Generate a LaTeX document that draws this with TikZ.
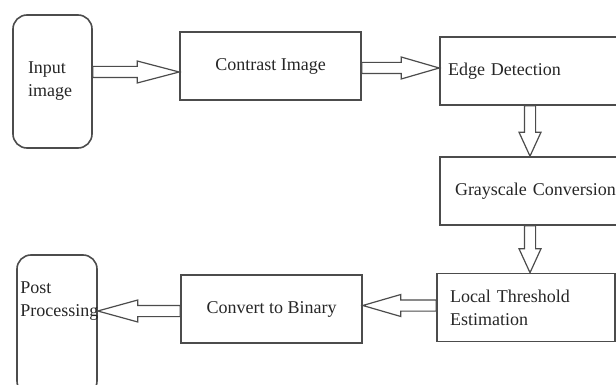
\documentclass[tikz,border=0pt]{standalone}
\usepackage{fontspec}
\setmainfont{Liberation Serif}
\usetikzlibrary{calc,decorations.pathreplacing}

\begin{document}
\begin{tikzpicture}[
		x=0.5pt, y=-0.5pt,
		every node/.style={font=\fontsize{9}{11.5}\selectfont, text=black!85},
		box/.style={rectangle, draw=black!70, line width=0.8pt, minimum height=34pt},
		roundbox/.style={box, rounded corners=7pt},
		% hollow block arrow, #1 = head length
		hollow/.style={decorate, decoration={show path construction, lineto code={
			\draw[black!70, line width=0.6pt, fill=white] let \p1=(\tikzinputsegmentfirst), \p2=(\tikzinputsegmentlast),
				\n1={atan2(\y2-\y1,\x2-\x1)}, \n2={veclen(\x2-\x1,\y2-\y1)} in
				[shift={(\p1)}, rotate=\n1] (0pt,-2.8pt) -- ({\n2*1pt-#1},-2.8pt) -- ({\n2*1pt-#1},-5.5pt)
				-- ({\n2*1pt},0pt) -- ({\n2*1pt-#1},5.5pt) -- ({\n2*1pt-#1},2.8pt) -- (0pt,2.8pt) -- cycle;
		}}}
	]
		\useasboundingbox (0,0) rectangle (616,385);
		
		\node[roundbox, minimum width=39.5pt, minimum height=66.5pt, text width=24.5pt, inner xsep=7.5pt, align=left](input) at (52.5,81.5){Input\\image};
		\node[box, minimum width=90.5pt](contrast) at (270.5,66){Contrast Image};
		\node[box, text width=92pt, inner xsep=4pt, align=left](edge) at (540,71){Edge Detection};
		\node[box, text width=85pt, inner xsep=7.5pt, align=left](gray) at (540,191){Grayscale Conversion};
		\node[box, text width=76pt, inner xsep=6.5pt, align=left](local) at (526,307.5){Local Threshold\\Estimation};
		\node[box, minimum width=90.5pt](convert) at (271.5,309){Convert to Binary};
		\node[roundbox, minimum width=40pt, minimum height=70pt](post) at (57,325){};
		\node[anchor=north west, inner sep=0pt, align=left](posttext) at (20,281){Post\\Processing};
		
		\path[hollow=21pt]([yshift=-3pt]contrast.west -| input.east) -- ([yshift=-3pt]contrast.west);
		\path[hollow=19pt]([yshift=-1pt]contrast.east) -- ([yshift=-1pt]contrast.east -| edge.west);
		\path[hollow=12pt]([xshift=-5pt]edge.south) -- ([xshift=-5pt]edge.south |- gray.north);
		\path[hollow=12pt]([xshift=-5pt]gray.south) -- ([xshift=-5pt]gray.south |- local.north);
		\path[hollow=19pt]([yshift=1pt]local.west) -- ([yshift=1pt]local.west -| convert.east);
		\path[hollow=20pt]([yshift=-1pt]convert.west) -- ([yshift=-1pt]convert.west -| post.east);
	\end{tikzpicture}
\end{document}
